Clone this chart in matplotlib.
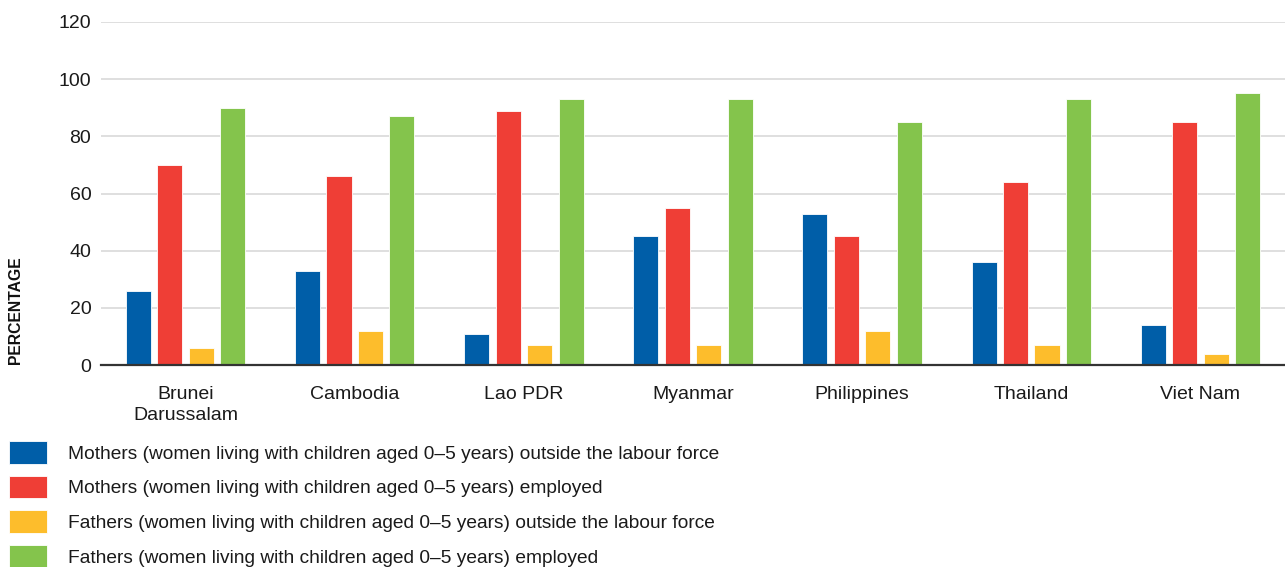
import matplotlib.pyplot as plt
import numpy as np

plt.rcParams['font.family'] = ['Liberation Sans', 'DejaVu Sans']

# --- data ---
countries = ["Brunei\nDarussalam", "Cambodia", "Lao PDR", "Myanmar",
             "Philippines", "Thailand", "Viet Nam"]
series_names = [
    "Mothers (women living with children aged 0\u20135 years) outside the labour force",
    "Mothers (women living with children aged 0\u20135 years) employed",
    "Fathers (women living with children aged 0\u20135 years) outside the labour force",
    "Fathers (women living with children aged 0\u20135 years) employed",
]
mothers_outside = [26, 33, 11, 45, 53, 36, 14]
mothers_employed = [70, 66, 89, 55, 45, 64, 85]
fathers_outside = [6, 12, 7, 7, 12, 7, 4]
fathers_employed = [90, 87, 93, 93, 85, 93, 95]
series_values = [mothers_outside, mothers_employed, fathers_outside, fathers_employed]
colors = ["#005EA8", "#EF3E36", "#FDBD2C", "#84C44C"]

# --- figure ---
fig = plt.figure(figsize=(12.85, 5.67), dpi=100)
ax = fig.add_axes([101 / 1285, 1 - 365 / 567, 1 - 101 / 1285, (365 - 22) / 567])

x = np.arange(len(countries))
slot = 0.186
w = 0.148
handles = []
for i, vals in enumerate(series_values):
    b = ax.bar(x + (i - 1.5) * slot, vals, w, color=colors[i],
               edgecolor="white", linewidth=0.6, label=series_names[i], zorder=3)
    handles.append(b)

ax.set_xlim(-0.5, len(countries) - 0.5)
ax.set_ylim(0, 120)
ax.set_yticks(np.arange(0, 121, 20))
ax.set_xticks(x)
ax.set_xticklabels(countries, fontsize=14, color="#1a1a1a", linespacing=1.35)
ax.tick_params(axis="x", length=0, pad=15)
ax.tick_params(axis="y", length=0, pad=7, labelsize=14, labelcolor="#1a1a1a")

ax.grid(axis="y", color="#d9d9d9", linewidth=1.2, zorder=0)
for s in ["top", "right", "left"]:
    ax.spines[s].set_visible(False)
ax.spines["bottom"].set_color("#333333")
ax.spines["bottom"].set_linewidth(1.6)
ax.spines["bottom"].set_zorder(4)

fig.text(16 / 1285, 1 - 364 / 567, "PERCENTAGE", rotation=90, ha="center", va="bottom",
         fontsize=11.3, fontweight="bold", color="#111111")

# --- legend ---
fig.legend(handles=handles, loc="upper left", bbox_to_anchor=(9 / 1285, 1 - 441 / 567),
           frameon=False, fontsize=13.8, handlelength=1.98, handleheight=1.45,
           handletextpad=1.08, labelspacing=0.62, borderaxespad=0, borderpad=0,
           labelcolor="#1a1a1a")

fig.savefig("out.png", dpi=100)
